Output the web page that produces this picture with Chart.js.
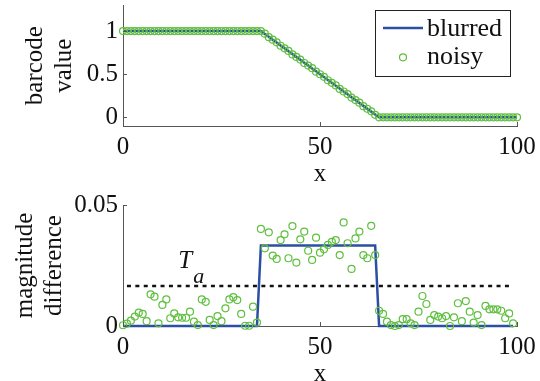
<!DOCTYPE html>
<html><head><meta charset="utf-8">
<script src="https://cdn.jsdelivr.net/npm/chart.js@4"></script>
<style>
html,body{margin:0;padding:0;background:#fff;overflow:hidden;width:540px;height:381px}
#c1{position:absolute;left:0;top:0}
#c2{position:absolute;left:0;top:190px}
</style></head><body>
<canvas id="c1" width="540" height="190"></canvas>
<canvas id="c2" width="540" height="200"></canvas>
<script>
// ---- data ----
const xTickValues = [0, 50, 100];
const xTickLabels = ['0', '50', '100'];
const topYTickValues = [0, 0.5, 1];
const topYTickLabels = ['0', '0.5', '1'];
const bottomYTickValues = [0, 0.05];
const bottomYTickLabels = ['0', '0.05'];
const xTitle = 'x';
const topYTitle = ['barcode', 'value'];
const bottomYTitle = ['magnitude', 'difference'];
const seriesNames = ['blurred', 'noisy'];
const thresholdLabel = 'T';
const thresholdSub = 'a';

// top panel: barcode value at x = 0..100
const blurredTop = [
 1,1,1,1,1,1,1,1,1,1,1,1,1,1,1,1,1,1,1,1,1,1,1,1,1,1,1,1,1,1,1,1,1,1,1,1,
 0.9667,0.9333,0.9,0.8667,0.8333,0.8,0.7667,0.7333,0.7,0.6667,0.6333,0.6,0.5667,0.5333,0.5,
 0.4667,0.4333,0.4,0.3667,0.3333,0.3,0.2667,0.2333,0.2,0.1667,0.1333,0.1,0.0667,0.0333,
 0,0,0,0,0,0,0,0,0,0,0,0,0,0,0,0,0,0,0,0,0,0,0,0,0,0,0,0,0,0,0,0,0,0,0,0
];
const noisyTop = [
 1.00,1.00,1.00,1.00,1.00,1.00,1.00,1.00,1.00,1.00,1.00,1.00,1.00,1.00,1.00,1.00,1.00,1.00,
 1.00,1.00,1.00,1.00,1.00,1.00,1.00,1.00,1.00,1.00,1.00,1.00,1.00,1.00,1.00,1.00,1.00,1.00,
 0.97,0.93,0.90,0.87,0.83,0.80,0.77,0.73,0.70,0.67,0.63,0.60,0.57,0.53,0.50,
 0.47,0.43,0.40,0.37,0.33,0.30,0.27,0.23,0.20,0.17,0.13,0.10,0.07,0.03,
 0.00,0.00,0.00,0.00,0.00,0.00,0.00,0.00,0.00,0.00,0.00,0.00,0.00,0.00,0.00,0.00,0.00,0.00,
 0.00,0.00,0.00,0.00,0.00,0.00,0.00,0.00,0.00,0.00,0.00,0.00,0.00,0.00,0.00,0.00,0.00,0.00
];

// bottom panel: magnitude difference at x = 0..99
const blurredBottom = [
 0,0,0,0,0,0,0,0,0,0,0,0,0,0,0,0,0,0,0,0,0,0,0,0,0,0,0,0,0,0,0,0,0,0,0,
 0.0333,0.0333,0.0333,0.0333,0.0333,0.0333,0.0333,0.0333,0.0333,0.0333,
 0.0333,0.0333,0.0333,0.0333,0.0333,0.0333,0.0333,0.0333,0.0333,0.0333,
 0.0333,0.0333,0.0333,0.0333,0.0333,0.0333,0.0333,0.0333,0.0333,0.0333,
 0,0,0,0,0,0,0,0,0,0,0,0,0,0,0,0,0,0,0,0,0,0,0,0,0,0,0,0,0,0,0,0,0,0,0
];
const noisyBottom = [
 0.0003,0.0010,0.0022,0.0039,0.0055,0.0050,0.0020,0.0131,0.0121,0.0011,
 0.0087,0.0110,0.0032,0.0052,0.0036,0.0034,0.0034,0.0059,0.0018,0.0004,
 0.0110,0.0100,0.0025,0.0004,0.0041,0.0020,0.0073,0.0110,0.0119,0.0107,
 0.0050,0.0001,0.0001,0.0080,0.0014,
 0.0401,0.0321,0.0387,0.0291,0.0277,0.0355,0.0379,0.0280,0.0413,0.0262,
 0.0358,0.0390,0.0311,0.0273,0.0365,0.0303,0.0317,0.0335,0.0348,0.0355,
 0.0293,0.0428,0.0342,0.0236,0.0362,0.0390,0.0293,0.0280,0.0414,0.0293,
 0.0063,0.0050,0.0018,0.0004,0.0000,0.0004,0.0028,0.0028,0.0011,0.0004,
 0.0059,0.0124,0.0091,0.0025,0.0045,0.0039,0.0032,0.0041,0.0000,0.0036,
 0.0094,0.0020,0.0103,0.0059,0.0014,0.0045,0.0004,0.0083,0.0069,0.0069,
 0.0069,0.0063,0.0032,0.0052,0.0011
];
const thresholdX = [1, 99];
const thresholdY = [0.0165, 0.0165];
const topYRange = [-0.1, 1.3];
const bottomYRange = [0, 0.05];
const xRange = [0, 100];

// ---- style ----
const F = '"Liberation Serif","Times New Roman",serif';
const BLUE = '#2c4fa3';
const GREEN = '#5fbf3f';
const AXIS = '#555';

const pts = arr => arr.map((v, i) => ({x: i, y: v}));
const pairs = (xs, ys) => xs.map((x, i) => ({x, y: ys[i]}));

const inwardTicks = {
  id: 'inwardTicks',
  afterDraw(chart) {
    const {ctx, chartArea: a, scales: {x, y}} = chart;
    ctx.save();
    ctx.strokeStyle = AXIS; ctx.lineWidth = 1;
    ctx.beginPath();
    x.ticks.forEach(t => { const px = Math.round(x.getPixelForValue(t.value)) + 0.5; ctx.moveTo(px, a.bottom); ctx.lineTo(px, a.bottom - 4); });
    y.ticks.forEach(t => { const py = Math.round(y.getPixelForValue(t.value)) + 0.5; ctx.moveTo(a.left, py); ctx.lineTo(a.left + 4, py); });
    ctx.stroke();
    ctx.restore();
  }
};

const legendBox = {
  id: 'legendBox',
  afterDraw(chart) {
    const ctx = chart.ctx;
    const ds = chart.data.datasets;
    const bl = ds.find(d => d.label === seriesNames[0]);
    const no = ds.find(d => d.label === seriesNames[1]);
    ctx.save();
    ctx.fillStyle = '#fff';
    ctx.fillRect(375.5, 10.5, 135, 66);
    ctx.strokeStyle = '#222'; ctx.lineWidth = 1;
    ctx.strokeRect(375.5, 10.5, 135, 66);
    ctx.strokeStyle = bl.borderColor; ctx.lineWidth = bl.borderWidth;
    ctx.beginPath(); ctx.moveTo(383, 28); ctx.lineTo(423, 28); ctx.stroke();
    ctx.strokeStyle = no.pointBorderColor; ctx.lineWidth = no.pointBorderWidth;
    ctx.beginPath(); ctx.arc(403, 57.3, no.pointRadius, 0, Math.PI * 2); ctx.stroke();
    ctx.fillStyle = '#111';
    ctx.font = '26px ' + F;
    ctx.textBaseline = 'alphabetic'; ctx.textAlign = 'left';
    ctx.fillText(bl.label, 427, 36);
    ctx.fillText(no.label, 427, 64);
    ctx.restore();
  }
};

const taLabel = {
  id: 'taLabel',
  afterDraw(chart) {
    const {ctx, scales: {x, y}} = chart;
    const px = x.getPixelForValue(14);
    const py = y.getPixelForValue(thresholdY[0]);
    ctx.save();
    ctx.fillStyle = '#111';
    ctx.textBaseline = 'alphabetic'; ctx.textAlign = 'left';
    ctx.font = 'italic 25px ' + F;
    ctx.fillText(thresholdLabel, px, py - 18);
    ctx.font = 'italic 22px ' + F;
    ctx.fillText(thresholdSub, px + 15, py - 3);
    ctx.restore();
  }
};

function makeScales(yRange, yTickValues, yTickLabels, yTitle, yTitlePad) {
  return {
    x: {
      type: 'linear', min: xRange[0], max: xRange[1],
      afterBuildTicks: s => { s.ticks = xTickValues.map(v => ({value: v})); },
      afterFit: s => { s.height = 64; s.paddingLeft = 0; s.paddingRight = 0; },
      grid: {display: false, drawTicks: false},
      border: {display: true, color: AXIS, width: 1},
      ticks: {
        font: {family: F, size: 25, lineHeight: 1.2}, color: '#111', padding: 6, maxRotation: 0,
        callback: (v) => xTickLabels[xTickValues.indexOf(v)]
      },
      title: {display: true, text: xTitle, font: {family: F, size: 25, lineHeight: 1.16}, color: '#111', padding: {top: 0, bottom: 1}}
    },
    y: {
      type: 'linear', min: yRange[0], max: yRange[1],
      afterBuildTicks: s => { s.ticks = yTickValues.map(v => ({value: v})); },
      afterFit: s => { s.width = 123; s.paddingTop = 0; s.paddingBottom = 0; },
      grid: {display: false, drawTicks: false},
      border: {display: true, color: AXIS, width: 1},
      ticks: {
        font: {family: F, size: 25, lineHeight: 1.2}, color: '#111', padding: 5,
        callback: (v) => yTickLabels[yTickValues.indexOf(v)]
      },
      title: {display: true, text: yTitle, font: {family: F, size: 25, lineHeight: 1.16}, color: '#111', padding: {top: yTitlePad, bottom: 0}}
    }
  };
}

const common = {
  responsive: false, animation: false, devicePixelRatio: 1,
  plugins: {legend: {display: false}, tooltip: {enabled: false}, title: {display: false}},
  elements: {line: {tension: 0}}
};

new Chart(document.getElementById('c1'), {
  type: 'scatter',
  data: {datasets: [
    {label: seriesNames[1], data: pts(noisyTop), showLine: false, pointRadius: 3.5, pointBorderWidth: 1.2,
     pointBorderColor: GREEN, pointBackgroundColor: 'rgba(0,0,0,0)', borderColor: GREEN, clip: false, order: 1},
    {label: seriesNames[0], data: pts(blurredTop), showLine: true, borderColor: BLUE, borderWidth: 2.5,
     pointRadius: 0, clip: false, order: 2}
  ]},
  options: Object.assign({}, common, {
    layout: {padding: {top: 3, right: 23, left: 0, bottom: 0}},
    scales: makeScales(topYRange, topYTickValues, topYTickLabels, topYTitle, 21)
  }),
  plugins: [inwardTicks, legendBox]
});

new Chart(document.getElementById('c2'), {
  type: 'scatter',
  data: {datasets: [
    {label: seriesNames[1], data: pts(noisyBottom), showLine: false, pointRadius: 3.5, pointBorderWidth: 1.2,
     pointBorderColor: GREEN, pointBackgroundColor: 'rgba(0,0,0,0)', borderColor: GREEN, clip: false, order: 1},
    {label: 'threshold', data: pairs(thresholdX, thresholdY), showLine: true, borderColor: '#111', borderWidth: 2.5,
     borderDash: [4, 4.4], pointRadius: 0, clip: false, order: 2},
    {label: seriesNames[0], data: pts(blurredBottom), showLine: true, borderColor: BLUE, borderWidth: 2.5,
     pointRadius: 0, clip: false, order: 3}
  ]},
  options: Object.assign({}, common, {
    layout: {padding: {top: 15, right: 23, left: 0, bottom: 0}},
    scales: makeScales(bottomYRange, bottomYTickValues, bottomYTickLabels, bottomYTitle, 11)
  }),
  plugins: [inwardTicks, taLabel]
});
</script>
</body></html>
